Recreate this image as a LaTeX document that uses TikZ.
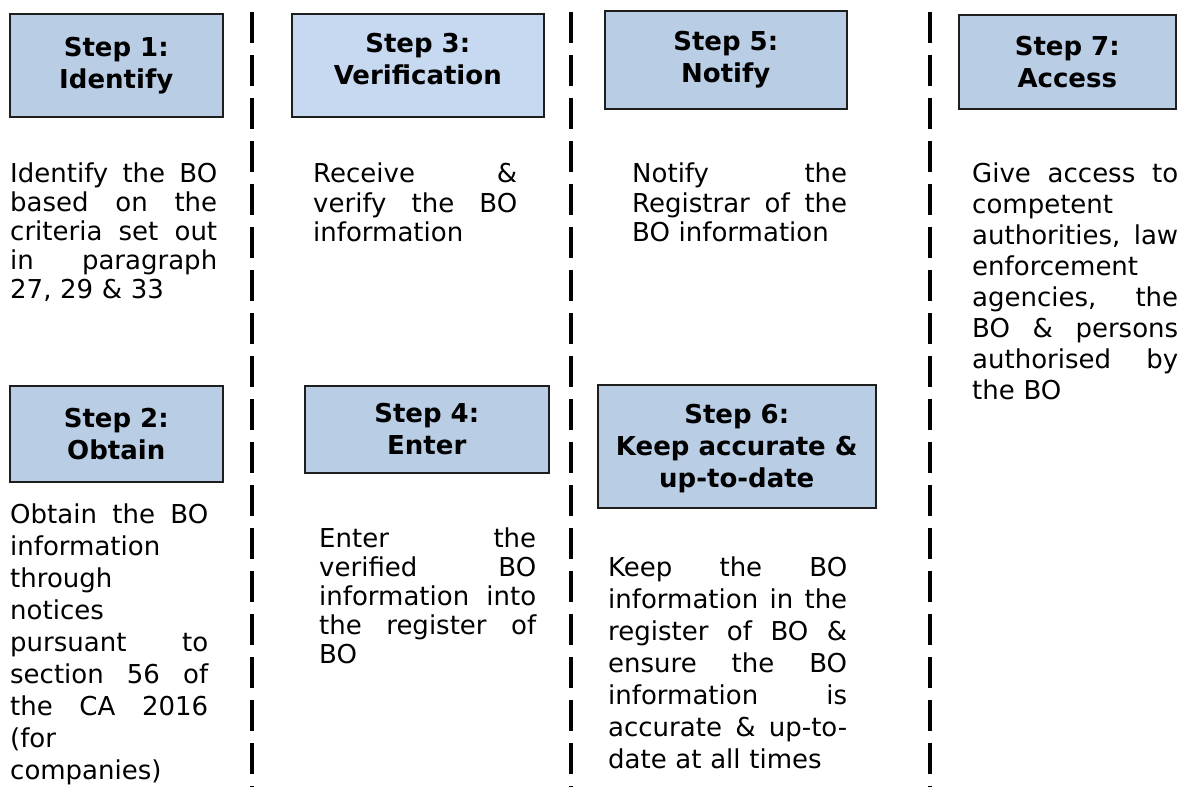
\documentclass[tikz,border=0pt]{standalone}
\usepackage{fontspec}
\setmainfont{DejaVu Sans}
\definecolor{stepblue}{RGB}{185,205,229}
\definecolor{steplight}{RGB}{198,217,241}
\definecolor{stepline}{RGB}{30,30,30}
% one justified line of a step description
\newlength{\colwd}
\newcommand{\jl}[1]{\makebox[\colwd][s]{\spaceskip=0pt\xspaceskip=0pt #1}\\}

\begin{document}
\begin{tikzpicture}[x=1pt, y=-1pt,
    stepbox/.style={draw=stepline, line width=1.5pt, fill=stepblue,
                    anchor=north west, align=center, inner sep=0pt,
                    font=\fontsize{26}{32}\selectfont\bfseries},
    steptext/.style 2 args={anchor=north west, inner sep=0pt, align=left,
                     text width=#1, font=\fontsize{26}{#2}\selectfont,
                     execute at begin node={\setlength{\colwd}{#1}}},
    divider/.style={line width=4pt, dash pattern=on 31pt off 12pt}
  ]
    \useasboundingbox (0,0) rectangle (1190,787);

    % Dividers between the columns
    \draw[divider] (252,12) -- (252,787);
    \draw[divider] (571,12) -- (571,787);
    \draw[divider] (930,12) -- (930,787);

    % Column 1: Steps 1 and 2
    \node[stepbox, minimum width=213pt, minimum height=103pt] (s1) at (9,13)
      {Step 1:\\Identify};
    \node[steptext={207pt}{29pt}] (t1) at (10,163) {%
      \jl{Identify the BO}
      \jl{based on the}
      \jl{criteria set out}
      \jl{in paragraph}
      27, 29 \& 33};

    \node[stepbox, minimum width=213pt, minimum height=96pt] (s2) at (9,385)
      {Step 2:\\Obtain};
    \node[steptext={198pt}{32pt}] (t2) at (10,504) {%
      \jl{Obtain the BO}
      information\\
      through\\
      notices\\
      \jl{pursuant to}
      \jl{section 56 of}
      \jl{the CA 2016}
      (for\\
      companies)};

    % Column 2: Steps 3 and 4
    \node[stepbox, fill=steplight, text depth=12pt, minimum width=252pt, minimum height=103pt] (s3) at (291,13)
      {Step 3:\\Verification};
    \node[steptext={204pt}{29.5pt}] (t3) at (313,163) {%
      \jl{Receive \&}
      \jl{verify the BO}
      information};

    \node[stepbox, minimum width=244pt, minimum height=87pt] (s4) at (304,385)
      {Step 4:\\Enter};
    \node[steptext={217pt}{29pt}] (t4) at (319,528) {%
      \jl{Enter the}
      \jl{verified BO}
      \jl{information into}
      \jl{the register of}
      BO};

    % Column 3: Steps 5 and 6
    \node[stepbox, minimum width=242pt, minimum height=98pt] (s5) at (604,10)
      {Step 5:\\Notify};
    \node[steptext={215pt}{29.5pt}] (t5) at (632,163) {%
      \jl{Notify the}
      \jl{Registrar of the}
      BO information};

    \node[stepbox, text depth=0pt, minimum width=278pt, minimum height=123pt] (s6) at (597,384)
      {Step 6:\\Keep accurate \&\\up-to-date};
    \node[steptext={239pt}{32pt}] (t6) at (608,557) {%
      \jl{Keep the BO}
      \jl{information in the}
      \jl{register of BO \&}
      \jl{ensure the BO}
      \jl{information is}
      \jl{accurate \& up-to-}
      date at all times};

    % Column 4: Step 7
    \node[stepbox, minimum width=217pt, minimum height=94pt] (s7) at (958,14)
      {Step 7:\\Access};
    \node[steptext={206pt}{31pt}] (t7) at (972,163) {%
      \jl{Give access to}
      competent\\
      \jl{authorities, law}
      enforcement\\
      \jl{agencies, the}
      \jl{BO \& persons}
      \jl{authorised by}
      the BO};
\end{tikzpicture}
\end{document}
